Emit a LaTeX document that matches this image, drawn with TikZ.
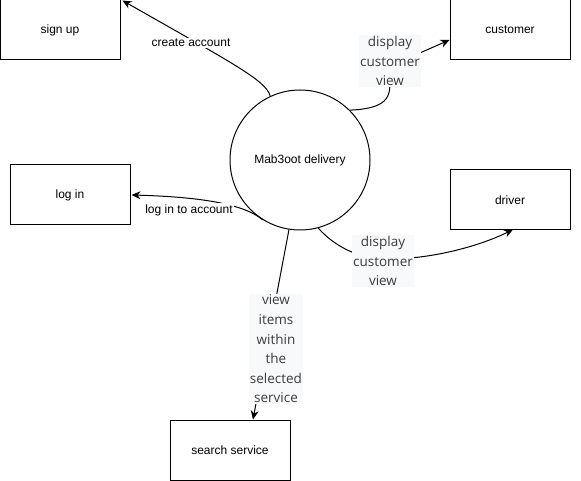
\documentclass[tikz,border=0pt]{standalone}
\usepackage{fontspec}
\setmainfont{Liberation Sans}
\newfontfamily\lblfont{Open Sans}
\usetikzlibrary{arrows.meta,calc}
\definecolor{lblbg}{HTML}{F8F9FA}
\definecolor{lbltxt}{HTML}{3C3C3C}
\tikzset{
  box/.style={draw,line width=1pt,minimum width=120pt,minimum height=60pt,inner sep=0pt,font=\fontsize{12}{14}\selectfont},
  proc/.style={draw,circle,line width=1pt,minimum size=140pt,inner sep=0pt,font=\fontsize{12}{14}\selectfont},
  arr/.style={line width=1pt,-{Stealth[length=9pt,width=8pt]}},
  smalllbl/.style={fill=white,inner sep=1pt,font=\fontsize{12}{14}\selectfont},
  biglbl/.style={fill=lblbg,text=lbltxt,inner sep=1pt,align=center,font=\lblfont\fontsize{13.5}{19.6}\selectfont}
}
\begin{document}
\begin{tikzpicture}[x=1pt,y=-1pt]
\useasboundingbox (0,0) rectangle (581,481);
\node[box] (signup) at (60,30) {sign up};
\node[box] (cust) at (510,30) {customer};
\node[box] (login) at (70,195) {log in};
\node[box] (driver) at (510,200) {driver};
\node[box] (search) at (230,450) {search service};
\node[proc] (c) at (300,160) {Mab3oot delivery};

% create account
\draw[arr] (c.115) .. controls (266,80) and (230,62) .. ([xshift=2pt,yshift=-1pt]signup.north east);
\node[smalllbl] (l1) at (191,43) {create account};

% customer
\draw[arr] (c.45) .. controls (400,108) and (388,88) .. (390,66) -- ([yshift=-10pt]cust.west);
\node[biglbl] (l2) at (390,61) {display\\customer\\view};

% log in
\draw[arr] (c.238) .. controls (245,205) and (205,197) .. ([xshift=1pt]login.east);
\node[smalllbl] (l3) at (189,210) {log in to account};

% driver
\coordinate (d1) at (383,259);
\draw[arr] (c.285) .. controls (336,248) and (360,258) .. (d1) .. controls (430,260) and (480,246) .. ([xshift=3pt,yshift=1pt]driver.south);
\node[biglbl] (l4) at (383,261) {display\\customer\\view};

% search
\draw[arr] (c.261) -- ([xshift=23pt]search.north);
\node[biglbl] (l5) at (276,349) {view\\items\\within\\the\\selected\\service};
\end{tikzpicture}
\end{document}
